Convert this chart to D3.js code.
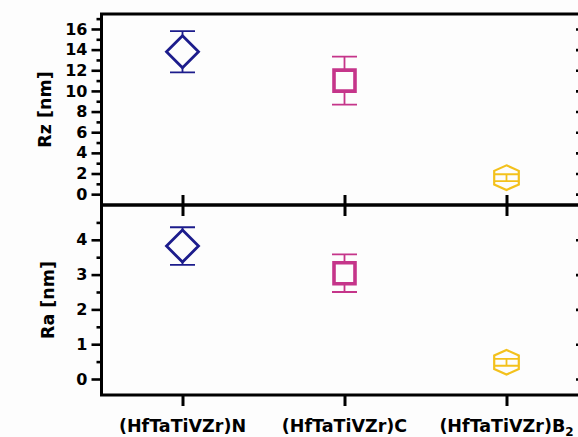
<!DOCTYPE html>
<html>
<head>
<meta charset="utf-8">
<script src="https://cdn.jsdelivr.net/npm/d3@7"></script>
<style>
  html, body { margin: 0; padding: 0; background: #fdfdfd; }
  svg { display: block; }
  text { font-family: "DejaVu Sans", sans-serif; font-weight: bold; fill: #000; }
</style>
</head>
<body>
<svg id="chart" width="578" height="437"></svg>
<script>
// Surface roughness of (HfTaTiVZr) nitride, carbide and diboride coatings
const categories = ["(HfTaTiVZr)N", "(HfTaTiVZr)C", "(HfTaTiVZr)B"];
const categorySubscripts = ["", "", "2"];
const markerShapes = ["diamond", "square", "hexagon"];
const markerColors = ["#1c1c8c", "#c5358a", "#f3c11c"];

const rzValues = [13.8, 11.0, 1.6];
const rzErrors = [2.0, 2.32, 0.33];
const raValues = [3.82, 3.04, 0.48];
const raErrors = [0.54, 0.54, 0.1];

const rzMajorTicks = [0, 2, 4, 6, 8, 10, 12, 14, 16];
const rzMinorTicks = [1, 3, 5, 7, 9, 11, 13, 15, 17];
const raMajorTicks = [0, 1, 2, 3, 4];
const raMinorTicks = [0.5, 1.5, 2.5, 3.5, 4.5];

const svg = d3.select("#chart");
const left = 101.5, right = 581;
const x = d3.scalePoint().domain(categories).range([left, 587.5]).padding(0.5);

const panels = [
  { title: "Rz [nm]", values: rzValues, errors: rzErrors, major: rzMajorTicks, minor: rzMinorTicks,
    y: d3.scaleLinear().domain([-1.05, 17.45]).range([205, 14]), titleX: 45, catTicks: "both" },
  { title: "Ra [nm]", values: raValues, errors: raErrors, major: raMajorTicks, minor: raMinorTicks,
    y: d3.scaleLinear().domain([-0.46, 5.0]).range([395, 205]), titleX: 48, catTicks: "down" }
];

function markerPath(shape) {
  if (shape === "diamond") return "M0,-16L16,0L0,16L-16,0Z";
  if (shape === "square") return "M-10.5,-10.5H10.5V10.5H-10.5Z";
  return "M0,-12.3L12.3,-6.8L12.3,6.8L0,12.3L-12.3,6.8L-12.3,-6.8Z";
}

panels.forEach(p => {
  const [y0, y1] = p.y.range();
  const g = svg.append("g");

  // minor ticks (left)
  g.append("g").attr("transform", `translate(${left},0)`)
    .call(d3.axisLeft(p.y).tickValues(p.minor).tickSize(5).tickFormat(""))
    .call(a => a.select(".domain").remove())
    .call(a => a.selectAll("line").attr("stroke", "#000").attr("stroke-width", 2.6));

  // major ticks + labels (left)
  g.append("g").attr("transform", `translate(${left},0)`)
    .call(d3.axisLeft(p.y).tickValues(p.major).tickSize(10).tickPadding(4).tickFormat(d3.format("d")))
    .call(a => a.select(".domain").remove())
    .call(a => a.selectAll("line").attr("stroke", "#000").attr("stroke-width", 2.6))
    .call(a => a.selectAll("text").attr("font-size", 16).attr("font-family", "DejaVu Sans").attr("font-weight", "bold").attr("fill", "#000"));

  // right axis, inward ticks
  g.append("g").attr("transform", `translate(${right},0)`)
    .call(d3.axisLeft(p.y).tickValues(p.major).tickSize(-5).tickFormat(""))
    .call(a => a.select(".domain").remove())
    .call(a => a.selectAll("line").attr("x2", -5).attr("stroke", "#000").attr("stroke-width", 2.6));

  // frame
  g.append("path")
    .attr("d", `M${left},${y1}H${right}M${left},${y1 - 1.5}V${y0 + 1.5}M${left},${y0}H${right}M${right},${y1}V${y0}`)
    .attr("fill", "none").attr("stroke", "#000").attr("stroke-width", 3);

  // category ticks
  const cg = g.append("g").attr("transform", `translate(0,${y0})`)
    .call(d3.axisBottom(x).tickSize(11).tickFormat(""))
    .call(a => a.select(".domain").remove())
    .call(a => a.selectAll("line").attr("stroke", "#000").attr("stroke-width", 3));
  if (p.catTicks === "both") cg.selectAll("line").attr("y1", -10);

  // y title
  g.append("text")
    .attr("transform", `translate(${p.titleX},${(y0 + y1) / 2}) rotate(-90)`)
    .attr("text-anchor", "middle").attr("dy", "0.36em")
    .attr("font-size", 17.5)
    .text(p.title);

  // error bars and markers
  const pts = g.selectAll(".pt").data(categories).join("g")
    .attr("class", "pt")
    .attr("transform", d => `translate(${x(d)},0)`);

  pts.append("path")
    .attr("d", (d, i) => {
      const top = p.y(p.values[i] + p.errors[i]), bot = p.y(p.values[i] - p.errors[i]);
      return `M-12.5,${top}H12.5M0,${top}V${bot}M-12.5,${bot}H12.5`;
    })
    .attr("fill", "none").attr("stroke", (d, i) => markerColors[i]).attr("stroke-width", 1.8);

  pts.append("path")
    .attr("transform", (d, i) => `translate(0,${p.y(p.values[i])})`)
    .attr("d", (d, i) => markerPath(markerShapes[i]))
    .attr("fill", (d, i) => markerShapes[i] === "hexagon" ? "none" : "#fdfdfd")
    .attr("stroke", (d, i) => markerColors[i])
    .attr("stroke-width", (d, i) => markerShapes[i] === "square" ? 3.6 : (markerShapes[i] === "diamond" ? 2.8 : 2.2))
    .attr("stroke-linejoin", "miter");
});

// category labels
const labels = svg.append("g").selectAll("text").data(categories).join("text")
  .attr("x", d => x(d)).attr("y", 432)
  .attr("text-anchor", "middle").attr("font-size", 17.5);
labels.append("tspan").text(d => d);
labels.append("tspan").attr("font-size", 12).attr("dy", 4).text((d, i) => categorySubscripts[i]);
</script>
</body>
</html>
